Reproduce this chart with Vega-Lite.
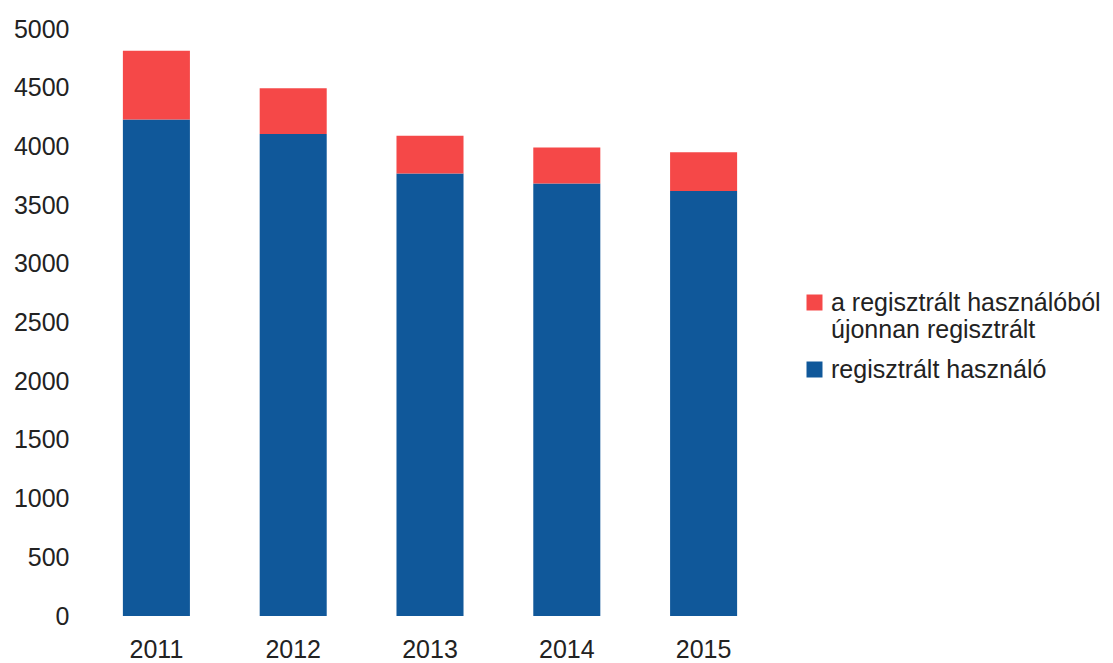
{
  "$schema": "https://vega.github.io/schema/vega-lite/v6.json",
  "width": 684,
  "height": 587,
  "autosize": {"type": "none"},
  "padding": {"left": 88, "top": 29, "right": 341, "bottom": 47},
  "background": "white",
  "config": {
    "view": {"stroke": null},
    "font": "Liberation Sans",
    "axis": {"labelFont": "Liberation Sans", "labelColor": "#222222", "labelFontSize": 25},
    "legend": {"labelFont": "Liberation Sans", "labelColor": "#222222", "labelFontSize": 25}
  },
  "data": {
    "values": [
      {"year": "2011", "series": "regisztrált használó", "value": 4230},
      {"year": "2012", "series": "regisztrált használó", "value": 4105},
      {"year": "2013", "series": "regisztrált használó", "value": 3770},
      {"year": "2014", "series": "regisztrált használó", "value": 3685},
      {"year": "2015", "series": "regisztrált használó", "value": 3620},
      {"year": "2011", "series": "a regisztrált használóból újonnan regisztrált", "value": 585},
      {"year": "2012", "series": "a regisztrált használóból újonnan regisztrált", "value": 390},
      {"year": "2013", "series": "a regisztrált használóból újonnan regisztrált", "value": 320},
      {"year": "2014", "series": "a regisztrált használóból újonnan regisztrált", "value": 305},
      {"year": "2015", "series": "a regisztrált használóból újonnan regisztrált", "value": 330}
    ]
  },
  "mark": {"type": "bar"},
  "encoding": {
    "x": {
      "field": "year",
      "type": "ordinal",
      "scale": {"paddingInner": 0.51, "paddingOuter": 0.255},
      "axis": {"title": null, "labelAngle": 0, "domain": false, "ticks": false, "labelPadding": 21}
    },
    "y": {
      "field": "value",
      "type": "quantitative",
      "stack": "zero",
      "scale": {"domain": [0, 5000], "nice": false},
      "axis": {"title": null, "format": "d", "values": [0, 500, 1000, 1500, 2000, 2500, 3000, 3500, 4000, 4500, 5000], "grid": false, "domain": false, "ticks": false, "labelPadding": 19}
    },
    "color": {
      "field": "series",
      "type": "nominal",
      "scale": {
        "domain": ["a regisztrált használóból újonnan regisztrált", "regisztrált használó"],
        "range": ["#F54848", "#10589A"]
      },
      "legend": {
        "title": null,
        "orient": "none",
        "legendX": 714,
        "legendY": 261,
        "symbolType": "square",
        "symbolSize": 256,
        "symbolStrokeWidth": 0,
        "symbolOpacity": 1,
        "labelOffset": 4,
        "rowPadding": 14,
        "labelLimit": 400,
        "labelExpr": "datum.label == 'a regisztrált használóból újonnan regisztrált' ? ['a regisztrált használóból', 'újonnan regisztrált'] : datum.label"
      }
    },
    "order": {"field": "series", "sort": "descending"}
  }
}
